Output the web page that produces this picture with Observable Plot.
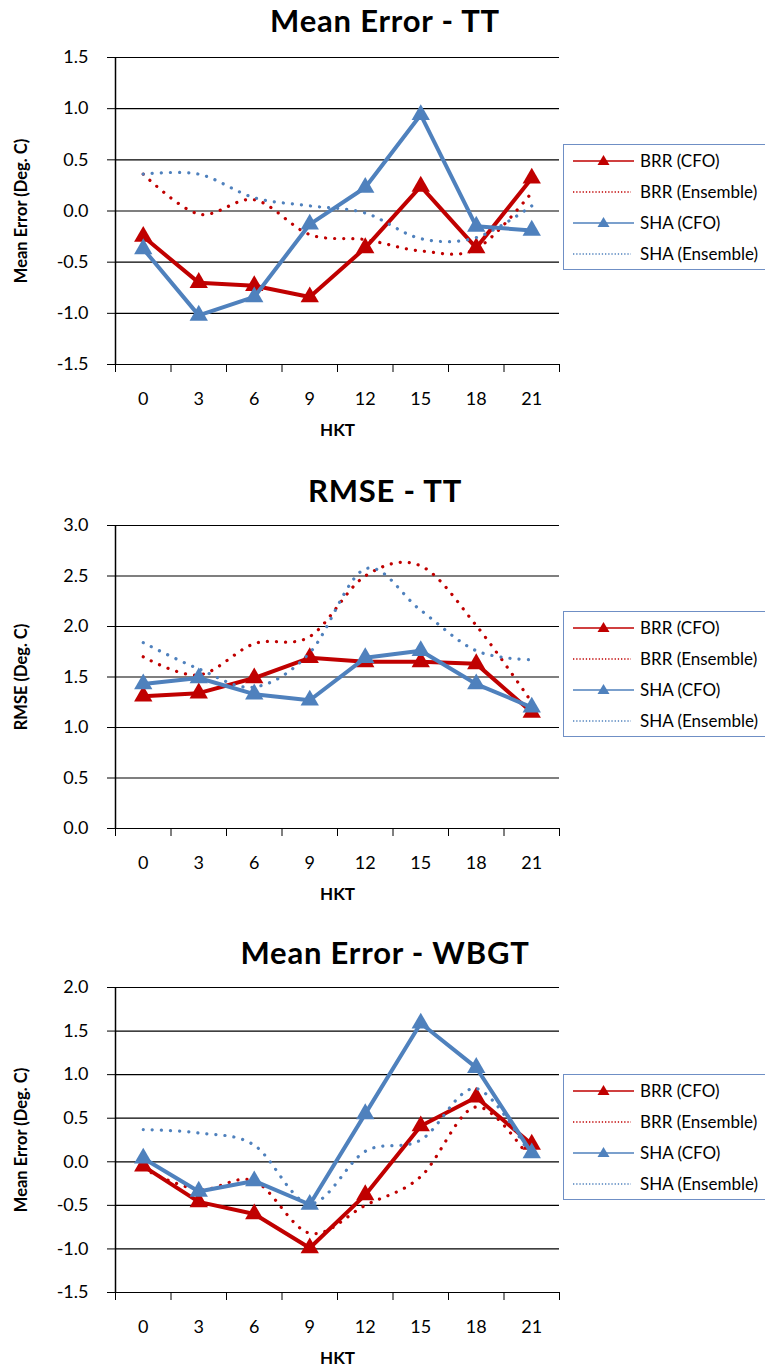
<!DOCTYPE html>
<html><head><meta charset="utf-8">
<script src="https://cdn.jsdelivr.net/npm/d3@7"></script>
<script src="https://cdn.jsdelivr.net/npm/@observablehq/plot@0.6"></script>
<style>
body{margin:0;background:#fff;font-family:Lato,"Open Sans",sans-serif;}
#root{position:relative;width:765px;height:1368px;overflow:hidden;background:#fff;}
.title{position:absolute;left:0;width:770px;text-align:center;font-weight:bold;font-size:31px;letter-spacing:0.8px;line-height:36px;color:#000;}
.chart{position:absolute;left:0;}
.legend{position:absolute;left:563px;width:220px;height:126px;border:1px solid #6f8fc5;background:#fff;box-sizing:border-box;}
.lrow{position:absolute;left:9px;height:20px;}
.lrow svg{position:absolute;left:0;top:0;}
.lrow span{position:absolute;left:67px;top:0;font-size:17px;line-height:20px;white-space:nowrap;color:#000;}
</style></head><body><div id="root"></div>
<script>
// ---- data ----
const hkt = [0, 3, 6, 9, 12, 15, 18, 21];
const seriesNames = ["BRR (CFO)", "BRR (Ensemble)", "SHA (CFO)", "SHA (Ensemble)"];
const seriesColors = ["#C00000", "#C00000", "#4F81BD", "#4F81BD"];

// Mean Error - TT
const meTT_brrCFO = [-0.25, -0.70, -0.73, -0.84, -0.36, 0.24, -0.36, 0.32];
const meTT_brrEns = [0.36, -0.03, 0.11, -0.23, -0.28, -0.39, -0.37, 0.18];
const meTT_shaCFO = [-0.37, -1.02, -0.84, -0.13, 0.23, 0.94, -0.15, -0.19];
const meTT_shaEns = [0.36, 0.36, 0.13, 0.05, -0.02, -0.27, -0.26, 0.05];

// RMSE - TT
const rmTT_brrCFO = [1.31, 1.34, 1.49, 1.69, 1.65, 1.65, 1.63, 1.15];
const rmTT_brrEns = [1.70, 1.52, 1.83, 1.90, 2.50, 2.60, 2.01, 1.25];
const rmTT_shaCFO = [1.43, 1.49, 1.33, 1.27, 1.69, 1.76, 1.43, 1.20];
const rmTT_shaEns = [1.84, 1.58, 1.40, 1.74, 2.57, 2.16, 1.76, 1.67];

// Mean Error - WBGT
const meWB_brrCFO = [-0.05, -0.46, -0.60, -0.99, -0.38, 0.41, 0.74, 0.20];
const meWB_brrEns = [-0.08, -0.32, -0.22, -0.82, -0.50, -0.17, 0.63, 0.00];
const meWB_shaCFO = [0.04, -0.34, -0.22, -0.49, 0.55, 1.59, 1.08, 0.10];
const meWB_shaEns = [0.37, 0.33, 0.19, -0.48, 0.12, 0.25, 0.84, 0.05];

const ticksME1 = [-1.5, -1.0, -0.5, 0.0, 0.5, 1.0, 1.5];
const ticksRM = [0.0, 0.5, 1.0, 1.5, 2.0, 2.5, 3.0];
const ticksME2 = [-1.5, -1.0, -0.5, 0.0, 0.5, 1.0, 1.5, 2.0];

const charts = [
  {title: "Mean Error - TT", yLabel: "Mean Error (Deg. C)", ticks: ticksME1,
   series: [meTT_brrCFO, meTT_brrEns, meTT_shaCFO, meTT_shaEns],
   top: 57, bottom: 364, titleTop: 2, legendTop: 144},
  {title: "RMSE - TT", yLabel: "RMSE (Deg. C)", ticks: ticksRM,
   series: [rmTT_brrCFO, rmTT_brrEns, rmTT_shaCFO, rmTT_shaEns],
   top: 525, bottom: 828, titleTop: 472, legendTop: 611},
  {title: "Mean Error - WBGT", yLabel: "Mean Error (Deg. C)", ticks: ticksME2,
   series: [meWB_brrCFO, meWB_brrEns, meWB_shaCFO, meWB_shaEns],
   top: 987, bottom: 1292, titleTop: 934, legendTop: 1074}
];

const root = document.getElementById("root");
const step = hkt[1] - hkt[0];
const boundaries = hkt.map(h => h - step / 2).concat([hkt[hkt.length - 1] + step / 2]);
const fmt = d => d3.format(".1f")(d).replace("\u2212", "-");

charts.forEach(cfg => {
  const t = document.createElement("div");
  t.className = "title";
  t.style.top = cfg.titleTop + "px";
  t.textContent = cfg.title;
  root.appendChild(t);

  const rows = [];
  cfg.series.forEach((vals, si) => vals.forEach((v, i) => rows.push({hkt: hkt[i], value: v, series: seriesNames[si], si})));
  const mt = 12, mb = 86;
  const plotH = cfg.bottom - cfg.top;
  const yDomain = [cfg.ticks[0], cfg.ticks[cfg.ticks.length - 1]];

  const marks = [
    Plot.ruleY(cfg.ticks, {stroke: "#000", strokeWidth: 1.2}),
    Plot.ruleX([boundaries[0]], {stroke: "#000", strokeWidth: 1.5}),
    Plot.axisY({ticks: cfg.ticks, tickSize: 8, tickPadding: 19, tickFormat: fmt, label: null, fontSize: 18, stroke: "#000"}),
    Plot.axisX({ticks: boundaries, tickSize: 8, tickFormat: () => "", label: null, stroke: "#000"}),
    Plot.axisX({ticks: hkt, tickSize: 0, tickPadding: 28, label: null, fontSize: 18}),
    Plot.text([cfg.yLabel], {frameAnchor: "left", textAnchor: "middle", rotate: -90, dx: -94, fontWeight: "bold", fontSize: 16.5}),
    Plot.text(["HKT"], {frameAnchor: "bottom", dy: 71, fontWeight: "bold", fontSize: 17})
  ];
  [0, 1, 2, 3].forEach(si => {
    const data = rows.filter(d => d.si === si);
    if (si % 2 === 0) {
      marks.push(Plot.line(data, {x: "hkt", y: "value", stroke: seriesColors[si], strokeWidth: 4, strokeLinejoin: "round"}));
      marks.push(Plot.dot(data, {x: "hkt", y: "value", symbol: "triangle", r: 6.8, fill: seriesColors[si], stroke: "none"}));
    } else {
      marks.push(Plot.line(data, {x: "hkt", y: "value", stroke: seriesColors[si], strokeWidth: 3.2, curve: "cardinal", strokeDasharray: "0.1 9", strokeLinecap: "round"}));
    }
  });

  const svg = Plot.plot({
    width: 765, height: plotH + mt + mb,
    marginLeft: 115, marginRight: 765 - 559, marginTop: mt, marginBottom: mb,
    style: {fontFamily: "Lato, 'Open Sans', sans-serif", fontSize: "18px", color: "#000", background: "transparent", overflow: "visible"},
    x: {type: "linear", domain: [boundaries[0], boundaries[boundaries.length - 1]]},
    y: {domain: yDomain},
    marks
  });
  svg.classList.add("chart");
  svg.style.position = "absolute";
  svg.style.top = (cfg.top - mt) + "px";
  svg.style.left = "0px";
  root.appendChild(svg);

  // legend
  const lg = document.createElement("div");
  lg.className = "legend";
  lg.style.top = cfg.legendTop + "px";
  const offs = [16, 47, 78, 109];
  seriesNames.forEach((name, si) => {
    const r = document.createElement("div");
    r.className = "lrow";
    r.style.top = (offs[si] - 10) + "px";
    const c = seriesColors[si];
    let inner;
    if (si % 2 === 0) {
      inner = `<line x1="0" y1="10" x2="61" y2="10" stroke="${c}" stroke-width="1.6"/>` +
        `<path d="M30.5,4 L36.5,14 L24.5,14 Z" fill="${c}"/>`;
    } else {
      inner = `<line x1="0" y1="10" x2="58" y2="10" stroke="${c}" stroke-width="1.3" stroke-dasharray="1.3 1.9"/>`;
    }
    r.innerHTML = `<svg width="62" height="20">${inner}</svg><span>${name}</span>`;
    lg.appendChild(r);
  });
  root.appendChild(lg);
});
</script>
</body></html>
